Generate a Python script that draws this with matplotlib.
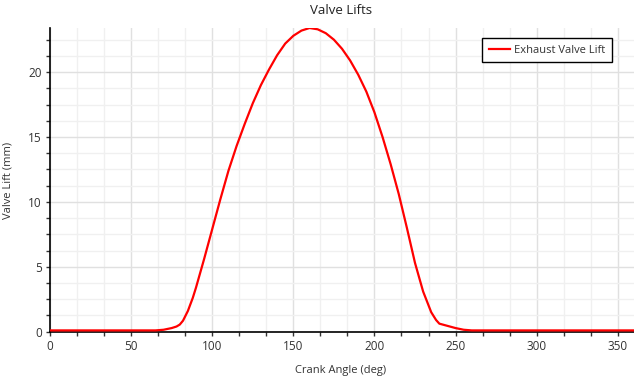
import matplotlib
matplotlib.use("Agg")
import matplotlib.pyplot as plt
import numpy as np
from matplotlib.ticker import MultipleLocator

plt.rcParams['font.family'] = ['Open Sans', 'DejaVu Sans']

crank_angle = [0, 10, 20, 30, 40, 50, 60, 65, 70, 75, 78, 80, 82, 85, 88, 90, 95, 100,
               105, 110, 115, 120, 125, 130, 135, 140, 145, 150, 155, 160, 165, 170,
               175, 180, 185, 190, 195, 200, 205, 210, 215, 220, 225, 230, 235, 238,
               240, 245, 250, 255, 260, 280, 300, 320, 340, 360]
valve_lift = [0.1, 0.1, 0.1, 0.1, 0.1, 0.1, 0.1, 0.1, 0.15, 0.28, 0.4, 0.55, 0.85, 1.6, 2.6, 3.4, 5.6, 7.9,
              10.2, 12.4, 14.3, 16.0, 17.6, 19.0, 20.2, 21.3, 22.2, 22.8, 23.2, 23.4, 23.3, 23.0,
              22.5, 21.8, 20.9, 19.8, 18.5, 16.9, 15.0, 12.9, 10.6, 8.0, 5.3, 3.1, 1.5, 0.9,
              0.62, 0.45, 0.28, 0.15, 0.1, 0.1, 0.1, 0.1, 0.1, 0.1]

series_name = "Exhaust Valve Lift"
title = "Valve Lifts"
xlabel = "Crank Angle (deg)"
ylabel = "Valve Lift (mm)"

W, H = 634, 378
fig = plt.figure(figsize=(W/100, H/100), dpi=100)
ax = fig.add_axes([50/W, 1-331.7/H, 1-50/W, (331.7-28)/H])

ax.plot(crank_angle, valve_lift, color='#ff0000', lw=1.6, label=series_name, zorder=3,
        solid_joinstyle='round')

ax.set_xlim(0, 360)
ax.set_ylim(0, 23.4)
ax.xaxis.set_major_locator(MultipleLocator(50))
ax.xaxis.set_minor_locator(MultipleLocator(50/3))
ax.yaxis.set_major_locator(MultipleLocator(5))
ax.yaxis.set_minor_locator(MultipleLocator(1.25))

ax.grid(which='major', color='#e0e0e0', lw=1)
ax.grid(which='minor', color='#f0f0f0', lw=1)
ax.set_axisbelow(True)

for s in ['top', 'right']:
    ax.spines[s].set_visible(False)
for s in ['left', 'bottom']:
    ax.spines[s].set_color('#000000')
    ax.spines[s].set_linewidth(1.2)

ax.tick_params(which='both', direction='out', length=3, width=1, color='#333333',
               labelsize=8.5, labelcolor='#333333', pad=3)

fig.text(341/W, 1-10/H, title, fontsize=9.5, color='#222222', ha='center', va='center')
fig.text(341/W, 1-370/H, xlabel, fontsize=8, color='#333333', ha='center', va='center')
fig.text(8/W, 1-180/H, ylabel, fontsize=8, color='#333333', ha='center', va='center',
         rotation=90)

leg = ax.legend(loc='upper right', fontsize=8, fancybox=False,
                frameon=True, edgecolor='#000000', handlelength=1.9, handletextpad=0.4,
                borderpad=0.6, labelcolor='#333333', borderaxespad=0)
leg.get_frame().set_linewidth(1)
leg.get_frame().set_facecolor('white')
leg.get_frame().set_alpha(1)
leg.set_bbox_to_anchor((612/W, 1-38/H), transform=fig.transFigure)

fig.savefig("out.png", dpi=100)
